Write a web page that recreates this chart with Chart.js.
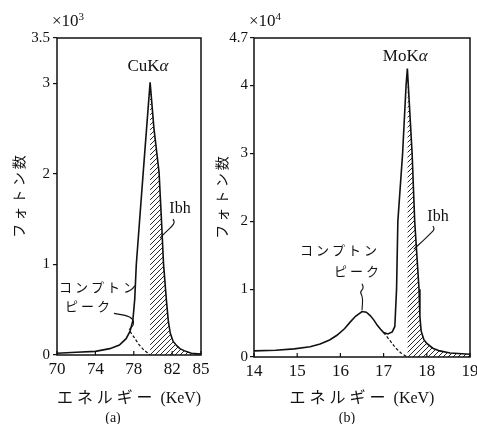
<!DOCTYPE html>
<html>
<head>
<meta charset="utf-8">
<script src="https://cdn.jsdelivr.net/npm/chart.js@4.4.1/dist/chart.umd.min.js"></script>
<style>
  body { margin: 0; background: #fff; }
  #chartA { position: absolute; left: 0; top: 0; }
  #chartB { position: absolute; left: 210px; top: 0; }
</style>
</head>
<body>
<canvas id="chartA" width="210" height="424"></canvas>
<canvas id="chartB" width="267" height="424"></canvas>
<script>
// (a) CuKα spectrum, counts in units of 10^3
const cuEnergyTicks = [70, 74, 78, 82, 85];
const cuCountTicks = [0, 1, 2, 3, 3.5];
const cuEnergy = [70.0, 72.0, 74.0, 75.5, 76.5, 77.2, 77.6, 77.9, 78.1, 78.26, 78.6, 78.97, 79.33, 79.7,
                  80.1, 80.63, 80.9, 81.1, 81.4, 81.6, 81.8, 82.1, 82.5, 82.8, 83.4, 84.0, 85.0];
const cuCounts = [0.02, 0.03, 0.04, 0.07, 0.11, 0.18, 0.26, 0.38, 0.62, 1.0, 1.48, 2.0, 2.5, 3.01,
                  2.5, 2.02, 1.45, 1.0, 0.6, 0.37, 0.24, 0.15, 0.1, 0.07, 0.04, 0.02, 0.01];
const cuPeakEnergy = 79.7;
const cuComptonEnergy = [77.6, 78.0, 78.5, 79.0, 79.7];
const cuComptonCounts = [0.26, 0.2, 0.12, 0.06, 0.0];

// (b) MoKα spectrum, counts in units of 10^4
const moEnergyTicks = [14, 15, 16, 17, 18, 19];
const moCountTicks = [0, 1, 2, 3, 4, 4.7];
const moEnergy = [14.0, 14.5, 14.93, 15.3, 15.53, 15.75, 15.92, 16.1, 16.22, 16.35, 16.5, 16.6, 16.69, 16.78,
                  16.85, 16.93, 17.0, 17.1, 17.2, 17.26, 17.3, 17.33, 17.44, 17.52, 17.55,
                  17.66, 17.72, 17.78, 17.82, 17.84, 17.87, 17.93, 18.0, 18.14, 18.3, 18.54, 19.0];
const moCounts = [0.09, 0.1, 0.12, 0.15, 0.19, 0.25, 0.32, 0.42, 0.51, 0.6, 0.67, 0.66, 0.61, 0.54,
                  0.47, 0.41, 0.36, 0.34, 0.37, 0.45, 1.0, 2.0, 3.0, 4.0, 4.25,
                  3.0, 2.0, 1.4, 1.0, 0.6, 0.38, 0.26, 0.2, 0.13, 0.09, 0.06, 0.04];
const moPeakEnergy = 17.55;
const moComptonEnergy = [17.0, 17.15, 17.27, 17.4, 17.55];
const moComptonCounts = [0.36, 0.24, 0.14, 0.06, 0.0];

const SERIF = '"Liberation Serif", "DejaVu Serif", serif';
const JP = '"Noto Sans CJK JP", sans-serif';
const MIXED = '"Liberation Serif", "Noto Sans CJK JP", serif';
const INK = '#111';

function points(xs, ys) {
  return xs.map((x, i) => ({ x, y: ys[i] }));
}

// area right of the line peak, closed by a vertical edge at the peak
function hatchPoints(xs, ys, peak) {
  const pts = [{ x: peak, y: 0 }];
  xs.forEach((x, i) => { if (x >= peak) pts.push({ x, y: ys[i] }); });
  return pts;
}

function hatchPattern() {
  const c = document.createElement('canvas');
  c.width = c.height = 5;
  const g = c.getContext('2d');
  g.strokeStyle = INK;
  g.lineWidth = 0.9;
  g.beginPath();
  g.moveTo(0, 5); g.lineTo(5, 0);
  g.moveTo(-1, 1); g.lineTo(1, -1);
  g.moveTo(4, 6); g.lineTo(6, 4);
  g.stroke();
  return g.createPattern(c, 'repeat');
}

// draws a label made of several font runs, centred on (cx, cy)
function drawRuns(ctx, runs, cx, cy, spacing) {
  ctx.letterSpacing = (spacing || 0) + 'px';
  let total = 0;
  runs.forEach(r => { ctx.font = r.font; total += ctx.measureText(r.text).width; });
  let x = cx - total / 2;
  ctx.textBaseline = 'middle';
  ctx.textAlign = 'left';
  runs.forEach(r => {
    ctx.font = r.font;
    ctx.fillText(r.text, x, cy + (r.dy || 0));
    x += ctx.measureText(r.text).width;
  });
  ctx.letterSpacing = '0px';
}

function framePlugin() {
  return {
    id: 'frame',
    afterDatasetsDraw(chart) {
      const { ctx, chartArea: a } = chart;
      const xs = chart.scales.x;
      ctx.save();
      ctx.strokeStyle = INK;
      ctx.lineWidth = 1.5;
      ctx.strokeRect(a.left, a.top, a.right - a.left, a.bottom - a.top);
      ctx.lineWidth = 1.2;
      xs.ticks.forEach(t => {
        const px = xs.getPixelForValue(t.value);
        ctx.beginPath();
        ctx.moveTo(px, a.bottom);
        ctx.lineTo(px, a.bottom - 4);
        ctx.stroke();
      });
      ctx.restore();
    }
  };
}

// text labels and leader lines, placed in data units
function notesPlugin(notes) {
  return {
    id: 'notes',
    afterDraw(chart) {
      const { ctx, chartArea: a } = chart;
      const xs = chart.scales.x, ys = chart.scales.y;
      ctx.save();
      ctx.fillStyle = INK;
      ctx.strokeStyle = INK;
      // exponent above the count axis
      drawRuns(ctx, [
        { text: '×10', font: '17px ' + SERIF },
        { text: notes.exponent, font: '11px ' + SERIF, dy: -5 }
      ], a.left + 11, a.top - 16);
      notes.labels.forEach(l => {
        drawRuns(ctx, l.runs, xs.getPixelForValue(l.x), ys.getPixelForValue(l.y), l.spacing);
      });
      ctx.lineWidth = 1.1;
      notes.leaders.forEach(pts => {
        const p = pts.map(q => [xs.getPixelForValue(q[0]), ys.getPixelForValue(q[1])]);
        ctx.beginPath();
        ctx.moveTo(p[0][0], p[0][1]);
        for (let i = 1; i < p.length - 1; i++) {
          const mx = (p[i][0] + p[i + 1][0]) / 2, my = (p[i][1] + p[i + 1][1]) / 2;
          ctx.quadraticCurveTo(p[i][0], p[i][1], mx, my);
        }
        const last = p[p.length - 1];
        ctx.lineTo(last[0], last[1]);
        ctx.stroke();
      });
      drawRuns(ctx, [{ text: notes.panel, font: '14px ' + SERIF }], notes.panelX, 418);
      ctx.restore();
    }
  };
}

function buildChart(id, o) {
  const pattern = hatchPattern();
  return new Chart(document.getElementById(id), {
    type: 'line',
    data: {
      datasets: [
        { data: points(o.energy, o.counts), borderColor: INK, borderWidth: 1.6,
          pointRadius: 0, tension: 0, fill: false, order: 1 },
        { data: points(o.comptonEnergy, o.comptonCounts), borderColor: INK, borderWidth: 1.2,
          borderDash: [3, 2], pointRadius: 0, tension: 0, fill: false, order: 2 },
        { data: hatchPoints(o.energy, o.counts, o.peak), borderColor: 'rgba(0,0,0,0)', borderWidth: 0,
          backgroundColor: pattern, fill: 'origin', pointRadius: 0, tension: 0, order: 3 }
      ]
    },
    options: {
      responsive: false,
      animation: false,
      events: [],
      layout: { padding: { top: 38, right: o.padRight, left: 0, bottom: 0 } },
      plugins: { legend: { display: false }, tooltip: { enabled: false } },
      scales: {
        x: {
          type: 'linear',
          min: o.xTicks[0],
          max: o.xTicks[o.xTicks.length - 1],
          afterBuildTicks: s => { s.ticks = o.xTicks.map(v => ({ value: v })); },
          afterFit: s => { s.height = o.xAxisHeight; s.paddingLeft = 0; s.paddingRight = 0; },
          grid: { display: false, drawTicks: false },
          border: { display: false },
          ticks: { color: INK, font: { family: SERIF, size: 17 }, padding: 4,
                   maxRotation: 0, autoSkip: false, callback: v => String(v) },
          title: { display: true, text: 'エ ネ ル ギ ー  (KeV)', color: INK,
                   font: { family: MIXED, size: 16 }, padding: { top: 0, bottom: 16 } }
        },
        y: {
          min: 0,
          max: o.yTicks[o.yTicks.length - 1],
          afterBuildTicks: s => { s.ticks = o.yTicks.map(v => ({ value: v })); },
          afterFit: s => { s.width = o.yAxisWidth; s.paddingTop = 0; s.paddingBottom = 0; },
          grid: { display: true, drawOnChartArea: false, drawTicks: true, tickLength: 4,
                  color: INK, lineWidth: 1.2 },
          border: { display: false },
          ticks: { color: INK, font: { family: SERIF, size: 15 }, padding: o.yTickPad,
                   autoSkip: false, callback: v => String(v) },
          title: { display: true, text: 'フ ォ ト ン 数', color: INK,
                   font: { family: JP, size: 14 }, padding: { top: o.yTitlePad, bottom: 0 } }
        }
      }
    },
    plugins: [framePlugin(), notesPlugin(o.notes)]
  });
}

buildChart('chartA', {
  energy: cuEnergy, counts: cuCounts, peak: cuPeakEnergy,
  comptonEnergy: cuComptonEnergy, comptonCounts: cuComptonCounts,
  xTicks: cuEnergyTicks, yTicks: cuCountTicks,
  padRight: 9, xAxisHeight: 69, yAxisWidth: 57, yTickPad: 3, yTitlePad: 10,
  notes: {
    exponent: '3',
    panel: '(a)', panelX: 113,
    labels: [
      { x: 79.48, y: 3.19, runs: [{ text: 'CuK', font: '17px ' + SERIF }, { text: 'α', font: 'italic 17px ' + SERIF }] },
      { x: 82.81, y: 1.61, runs: [{ text: 'Ibh', font: '16px ' + SERIF }] },
      { x: 74.38, y: 0.75, spacing: 3, runs: [{ text: 'コンプトン', font: '13px ' + JP }] },
      { x: 73.33, y: 0.54, spacing: 3, runs: [{ text: 'ピーク', font: '13px ' + JP }] }
    ],
    leaders: [
      [[82.08, 1.50], [82.29, 1.47], [81.98, 1.42], [81.35, 1.36], [80.73, 1.29]],
      [[75.94, 0.46], [77.19, 0.44], [77.92, 0.40], [78.02, 0.33], [77.5, 0.28]]
    ]
  }
});

buildChart('chartB', {
  energy: moEnergy, counts: moCounts, peak: moPeakEnergy,
  comptonEnergy: moComptonEnergy, comptonCounts: moComptonCounts,
  xTicks: moEnergyTicks, yTicks: moCountTicks,
  padRight: 7, xAxisHeight: 67, yAxisWidth: 44, yTickPad: 2, yTitlePad: 3,
  notes: {
    exponent: '4',
    panel: '(b)', panelX: 137,
    labels: [
      { x: 17.50, y: 4.43, runs: [{ text: 'MoK', font: '17px ' + SERIF }, { text: 'α', font: 'italic 17px ' + SERIF }] },
      { x: 18.26, y: 2.06, runs: [{ text: 'Ibh', font: '16px ' + SERIF }] },
      { x: 15.99, y: 1.58, spacing: 3, runs: [{ text: 'コンプトン', font: '13px ' + JP }] },
      { x: 16.41, y: 1.27, spacing: 3, runs: [{ text: 'ピーク', font: '13px ' + JP }] }
    ],
    leaders: [
      [[18.14, 1.93], [18.19, 1.89], [18.10, 1.83], [17.91, 1.71], [17.70, 1.59]],
      [[16.5, 1.08], [16.55, 1.02], [16.45, 0.96], [16.52, 0.88], [16.5, 0.69]]
    ]
  }
});
</script>
</body>
</html>
